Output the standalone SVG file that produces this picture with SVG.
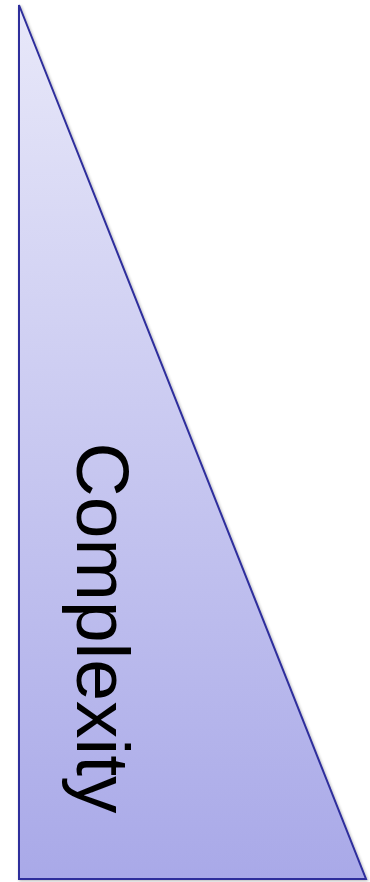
<svg xmlns="http://www.w3.org/2000/svg" width="370" height="882" viewBox="0 0 370 882">
  <defs>
    <linearGradient id="g" x1="0" y1="0" x2="0" y2="1">
      <stop offset="0" stop-color="#e8e8f9"/>
      <stop offset="1" stop-color="#a9a9e8"/>
    </linearGradient>
    <filter id="sh" x="-5%" y="-5%" width="110%" height="110%">
      <feGaussianBlur in="SourceAlpha" stdDeviation="1.5"/>
      <feOffset dx="1" dy="1" result="b"/>
      <feComponentTransfer><feFuncA type="linear" slope="0.3"/></feComponentTransfer>
      <feMerge><feMergeNode/><feMergeNode in="SourceGraphic"/></feMerge>
    </filter>
  </defs>
  <style>
    .tri { fill: url(#g); stroke: #2f2f9c; stroke-width: 2; stroke-linejoin: miter; }
    .lbl { font-family: "Liberation Sans", Arial, sans-serif; font-size: 75px; fill: #000; }
  </style>
  <g id="triangle">
    <polygon class="tri" filter="url(#sh)" points="19,5 19,879 366,879"/>
    <text class="lbl" text-anchor="middle" transform="translate(77,628) rotate(90)">Complexity</text>
  </g>
</svg>
